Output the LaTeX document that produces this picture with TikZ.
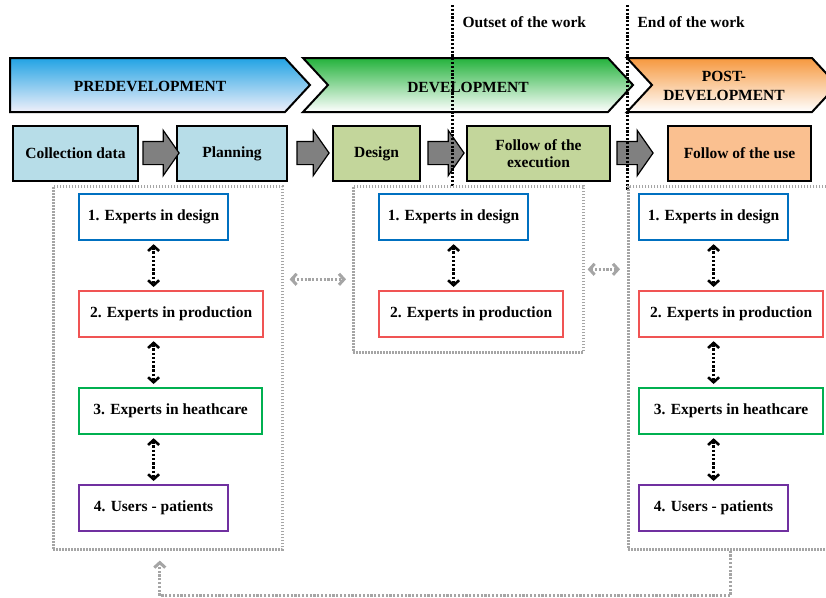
\documentclass[tikz,border=0pt]{standalone}
\usepackage{fontspec}
\setmainfont{Liberation Serif}
\usetikzlibrary{arrows.meta,shapes.arrows,calc}
\definecolor{preblue}{RGB}{34,163,228}
\definecolor{prelow}{RGB}{240,240,250}
\definecolor{devgreen}{RGB}{36,178,60}
\definecolor{postorange}{RGB}{246,152,62}
\definecolor{stageblue}{RGB}{183,221,232}
\definecolor{stagegreen}{RGB}{195,214,155}
\definecolor{stageorange}{RGB}{250,192,144}
\definecolor{pushgray}{RGB}{128,128,128}
\definecolor{groupgray}{RGB}{165,165,165}
\definecolor{expblue}{RGB}{0,112,192}
\definecolor{expred}{RGB}{240,84,84}
\definecolor{expgreen}{RGB}{0,176,80}
\definecolor{exppurple}{RGB}{112,48,160}

\begin{document}
\begin{tikzpicture}[x=1pt,y=-1pt,
  font=\fontsize{15.5}{17}\selectfont\bfseries,
  phase/.style={draw=black, line width=2pt, line join=miter},
  stage/.style={draw=black, line width=2pt, minimum height=55pt,
    inner sep=2pt, align=center, anchor=north west},
  push/.style={single arrow, draw=black, line width=1.2pt, fill=pushgray,
    minimum height=36pt, inner ysep=11pt, inner xsep=0pt,
    single arrow head extend=11pt, single arrow tip angle=110},
  group/.style={draw=groupgray, line width=2.6pt, dash pattern=on 1.8pt off 1.2pt,
    anchor=north west},
  expert/.style={draw=#1, line width=2.2pt, fill=white, minimum height=46pt,
    inner sep=2pt, anchor=north west},
  talk/.style={line width=2.6pt, dash pattern=on 2.4pt off 1.8pt,
    {Straight Barb[length=5pt,width=11pt]}-{Straight Barb[length=5pt,width=11pt]}},
  link/.style={groupgray, line width=3pt, dash pattern=on 2.2pt off 1.6pt},
  milestone/.style={black, line width=3pt, dash pattern=on 2.2pt off 1.6pt}
]
\useasboundingbox (0,0) rectangle (826,597);
\clip (0,0) rectangle (826,597);

% phases
\draw[phase, top color=preblue, bottom color=prelow]
  (10,58) -- (285,58) -- (310,85) -- (285,112) -- (10,112) -- cycle;
\draw[phase, top color=devgreen, bottom color=white]
  (303,58) -- (608,58) -- (633,85) -- (608,112) -- (303,112) -- (328,85) -- cycle;
\draw[phase, top color=postorange, bottom color=white]
  (627,58) -- (812,58) -- (837,85) -- (812,112) -- (627,112) -- (652,85) -- cycle;
\node (pre) at (150,86) {PREDEVELOPMENT};
\node (dev) at (468,87) {DEVELOPMENT};
\node[align=center, font=\fontsize{15.5}{19}\selectfont\bfseries] (post) at (724,86) {POST-\\DEVELOPMENT};

% stages
\node[stage, fill=stageblue, minimum width=125pt] (coll) at (12,125) {Collection data};
\node[stage, fill=stageblue, minimum width=110pt] (plan) at (176,125) {Planning};
\node[stage, fill=stagegreen, minimum width=87pt] (design) at (332,125) {Design};
\node[stage, fill=stagegreen, minimum width=143pt] (exec) at (466,125) {Follow of the\\execution};
\node[stage, fill=stageorange, minimum width=143pt] (use) at (667,125) {Follow of the use};

\node[push] (p1) at (157,153) {};
\node[push, minimum height=32pt] (p2) at (309,153) {};
\node[push] (p3) at (442,153) {};
\node[push] (p4) at (631,153) {};

% milestones
\draw[milestone] (452,5) -- (452,186);
\draw[milestone] (627,5) -- (627,190);
\node[anchor=west] (outset) at (459,22) {Outset of the work};
\node[anchor=west] (end) at (634,22) {End of the work};

% groups of experts
\node[group, minimum width=229pt, minimum height=363pt] (lgrp) at (52,185) {};
\node[group, minimum width=230pt, minimum height=166pt] (mgrp) at (352,185) {};
\node[group, minimum width=204pt, minimum height=363pt] (rgrp) at (627,185) {};

\node[expert=expblue, minimum width=149pt] (l1) at (78,193) {1. Experts in design};
\node[expert=expred, minimum width=184pt] (l2) at (78,290) {2. Experts in production};
\node[expert=expgreen, minimum width=183pt] (l3) at (78,387) {3. Experts in heathcare};
\node[expert=exppurple, minimum width=149pt] (l4) at (78,484) {4. Users - patients};

\node[expert=expblue, minimum width=149pt] (m1) at (378,193) {1. Experts in design};
\node[expert=expred, minimum width=184pt] (m2) at (378,290) {2. Experts in production};

\node[expert=expblue, minimum width=149pt] (r1) at (638,193) {1. Experts in design};
\node[expert=expred, minimum width=184pt] (r2) at (638,290) {2. Experts in production};
\node[expert=expgreen, minimum width=184pt] (r3) at (638,387) {3. Experts in heathcare};
\node[expert=exppurple, minimum width=149pt] (r4) at (638,484) {4. Users - patients};

% exchanges
\foreach \c in {l,r}{
  \draw[talk] ([yshift=-3pt]\c1.south) -- ([yshift=3pt]\c1.south |- \c2.north);
  \draw[talk] ([yshift=-3pt]\c1.south |- \c2.south) -- ([yshift=3pt]\c1.south |- \c3.north);
  \draw[talk] ([yshift=-3pt]\c1.south |- \c3.south) -- ([yshift=3pt]\c1.south |- \c4.north);
}
\draw[talk] ([yshift=-3pt]m1.south) -- ([yshift=3pt]m1.south |- m2.north);

\draw[link, {Straight Barb[length=5pt,width=11pt]}-{Straight Barb[length=5pt,width=11pt]}]
  ([shift={(6,10)}]lgrp.east |- mgrp.west) -- ([shift={(-6,10)}]mgrp.west);
\draw[link, {Straight Barb[length=5pt,width=11pt]}-{Straight Barb[length=5pt,width=11pt]}]
  ([xshift=3pt]mgrp.east) -- ([xshift=-7pt]mgrp.east -| rgrp.west);
\draw[link, -{Straight Barb[length=5pt,width=11pt]}]
  (rgrp.south) -- ++(0,45) -| ([shift={(-8,10)}]lgrp.south);
\end{tikzpicture}
\end{document}
